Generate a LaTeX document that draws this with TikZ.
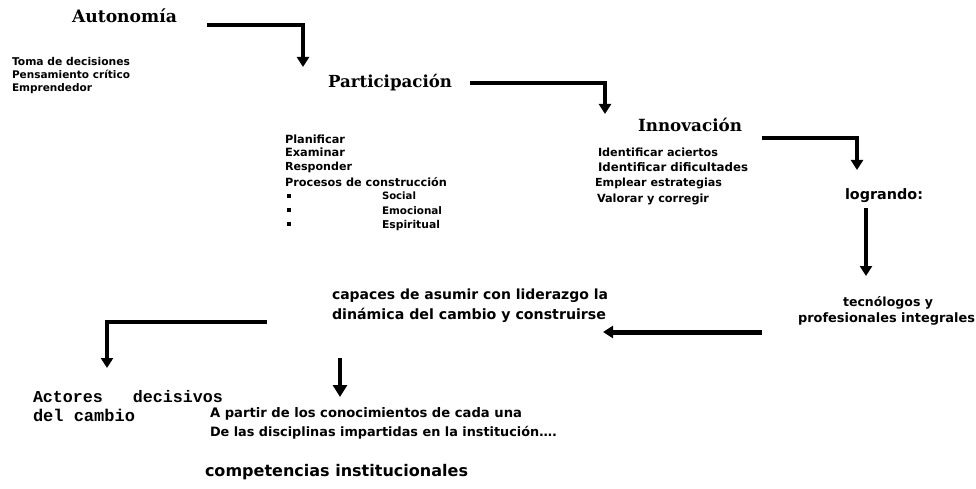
\documentclass[tikz,border=0pt]{standalone}
\usepackage{fontspec}
\setmainfont{DejaVu Sans}
\newfontfamily\slabfont{DejaVu Serif}
\newfontfamily\monofont{Liberation Mono}
\newfontfamily\sansfont{DejaVu Sans}
\usetikzlibrary{arrows.meta}
\newcommand\fitw[2]{\resizebox{#1pt}{!}{#2}}
\begin{document}
\begin{tikzpicture}[x=1pt,y=-1pt,
  every node/.style={inner sep=0pt,outer sep=0pt,anchor=base west},
  ttl/.style={font=\slabfont\bfseries\fontsize{17}{20}\selectfont},
  lst/.style={font=\sansfont\bfseries\fontsize{11}{13}\selectfont},
  big/.style={font=\sansfont\bfseries\fontsize{13}{15}\selectfont},
  mon/.style={font=\monofont\bfseries\fontsize{17}{19}\selectfont},
  conn/.style={line width=3.5pt,-{Triangle[width=12pt,length=10pt]}},
  bul/.style={fill=black,minimum size=3.5pt,anchor=center}]
\fill[white] (0,0) rectangle (976,489);
\useasboundingbox (0,0) rectangle (976,489);

% Autonomia block
\node[ttl] (auto) at (72,23) {\fitw{105}{Autonomía}};
\node[lst] (l1a) at (12,66) {\fitw{118}{Toma de decisiones}};
\node[lst] (l1b) at (12,79) {\fitw{118}{Pensamiento crítico}};
\node[lst] (l1c) at (12,92) {\fitw{80}{Emprendedor}};

% Participacion block
\node[ttl] (part) at (328,88) {\fitw{124}{Participación}};
\node[lst] (p1) at (285,143) {\fitw{60}{Planificar}};
\node[lst] (p2) at (285,157) {\fitw{60}{Examinar}};
\node[lst] (p3) at (285,171) {\fitw{67}{Responder}};
\node[lst] (p4) at (285,186) {\fitw{162}{Procesos de construcción}};
\node[bul] (b1) at (289,196) {};
\node[bul] (b2) at (289,210) {};
\node[bul] (b3) at (289,224) {};
\node[lst] (p5) at (382,200) {\fitw{34}{Social}};
\node[lst] (p6) at (382,214) {\fitw{60}{Emocional}};
\node[lst] (p7) at (382,228) {\fitw{58}{Espiritual}};

% Innovacion block
\node[ttl] (inno) at (638,132) {\fitw{104}{Innovación}};
\node[lst] (i1) at (598,157) {\fitw{120}{Identificar aciertos}};
\node[lst] (i2) at (598,172) {\fitw{150}{Identificar dificultades}};
\node[lst] (i3) at (595,187) {\fitw{127}{Emplear estrategias}};
\node[lst] (i4) at (597,202) {\fitw{112}{Valorar y corregir}};

% right column
\node[big] (logr) at (845,199) {\fitw{78}{logrando:}};
\node[lst] (tec1) at (843,306) {\fitw{90}{tecnólogos y}};
\node[lst] (tec2) at (798,322) {\fitw{177}{profesionales integrales}};

% middle
\node[big] (cap1) at (332,299) {\fitw{276}{capaces de asumir con liderazgo la}};
\node[big] (cap2) at (332,319) {\fitw{274}{dinámica del cambio y construirse}};

% bottom left
\node[mon] (act1) at (33,402) {\fitw{190}{Actores\ \ \ decisivos}};
\node[mon] (act2) at (33,421) {\fitw{102}{del cambio}};

\node[lst] (ap1) at (210,417) {\fitw{312}{A partir de los conocimientos de cada una}};
\node[lst] (ap2) at (210,436) {\fitw{347}{De las disciplinas impartidas en la institución….}};
\node[big] (comp) at (205,476) {\fitw{263}{competencias institucionales}};

% connectors
\coordinate (a1s) at (207,25);  \coordinate (a1e) at (303,67);
\coordinate (a2s) at (470,83);  \coordinate (a2e) at (605,114);
\coordinate (a3s) at (762,138); \coordinate (a3e) at (857,170);
\coordinate (a4s) at (866,208); \coordinate (a4e) at (866,276);
\coordinate (a5s) at (762,332); \coordinate (a5e) at (603,332);
\coordinate (a6s) at (267,322); \coordinate (a6e) at (107,368);
\coordinate (a7s) at (340,358); \coordinate (a7e) at (340,397);

\draw[conn] (a1s) -| (a1e);
\draw[conn] (a2s) -| (a2e);
\draw[conn] (a3s) -| (a3e);
\draw[conn] (a4s) -- (a4e);
\draw[conn,line width=5pt] (a5s) -- (a5e);
\draw[conn] (a6s) -| (a6e);
\draw[conn,-{Triangle[width=14pt,length=12pt]}] (a7s) -- (a7e);
\end{tikzpicture}
\end{document}
